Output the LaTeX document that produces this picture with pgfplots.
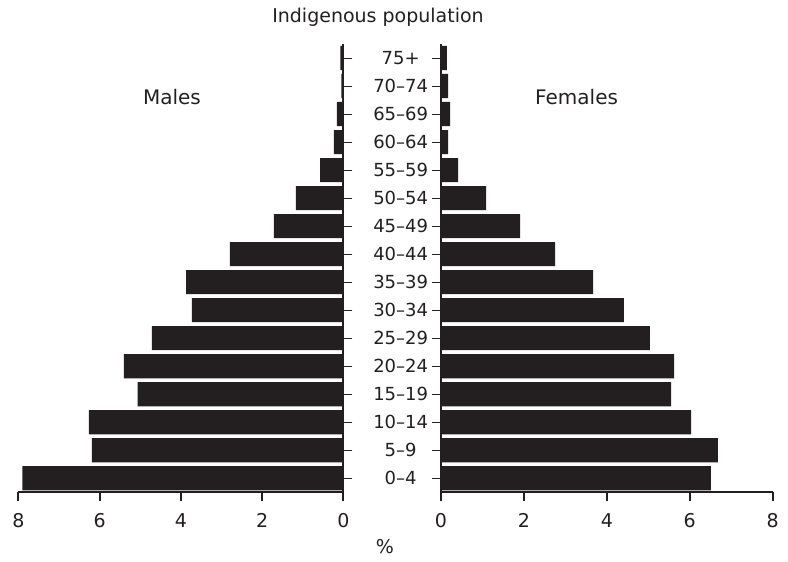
\documentclass[border=0pt]{standalone}
\usepackage{pgfplots}
\pgfplotsset{compat=1.18}
\usepackage{fontspec}
\setmainfont{DejaVu Sans}
\definecolor{barblack}{HTML}{231F20}
\definecolor{txt}{HTML}{231F20}

\pgfplotstableread{
idx val
0 7.90
1 6.19
2 6.26
3 5.06
4 5.40
5 4.71
6 3.73
7 3.87
8 2.79
9 1.71
10 1.17
11 0.57
12 0.23
13 0.16
14 0.05
15 0.07
}\males
\pgfplotstableread{
idx val
0 6.51
1 6.68
2 6.03
3 5.55
4 5.62
5 5.04
6 4.41
7 3.67
8 2.75
9 1.91
10 1.09
11 0.41
12 0.17
13 0.22
14 0.17
15 0.14
}\females

\begin{document}
\fontsize{9.5}{11}\selectfont
\begin{tikzpicture}
\useasboundingbox (0,0) rectangle (394pt,281pt);
\pgfplotsset{pyr/.style={
  scale only axis, height=224.15pt,
  ymin=-0.5, ymax=15.5, xmin=0, xmax=8,
  xbar, bar width=0.86,
  ytick={0,...,15}, xtick={0,2,4,6,8},
  axis x line*=bottom,
  tick align=outside,
  major tick length=4.5pt,
  /pgf/number format/assume math mode=true,
  tick label style={font=\fontsize{9.5}{11}\selectfont, text=txt},
  axis line style={line width=1pt, draw=barblack},
  xtick style={line width=1pt, draw=barblack},
  ytick style={line width=0.5pt, draw=barblack},
  xticklabel style={yshift=-2.6pt},
}}
\begin{axis}[pyr,
  at={(9.15pt,34.85pt)}, anchor=south west,
  width=162.5pt,
  x dir=reverse,
  axis y line*=right,
  yticklabels={0--4,5--9,10--14,15--19,20--24,25--29,30--34,35--39,40--44,45--49,50--54,55--59,60--64,65--69,70--74,75+},
  yticklabel style={anchor=center, xshift=24.2pt, font=\fontsize{9}{11}\selectfont},
]
\addplot[fill=barblack, draw=none] table[x=val, y=idx] {\males};
\end{axis}
\begin{axis}[pyr,
  at={(220.5pt,34.85pt)}, anchor=south west,
  width=165.85pt,
  axis y line*=left,
  yticklabels={},
]
\addplot[fill=barblack, draw=none] table[x=val, y=idx] {\females};
\end{axis}
\node[anchor=base, text=txt] at (189pt,269.5pt) {Indigenous population};
\node[anchor=base, text=txt, font=\fontsize{10}{12}\selectfont] at (86pt,228.5pt) {Males};
\node[anchor=base, text=txt, font=\fontsize{10}{12}\selectfont] at (288.3pt,228.5pt) {Females};
\node[anchor=base, text=txt] at (192.5pt,4pt) {\%};
\end{tikzpicture}
\end{document}
